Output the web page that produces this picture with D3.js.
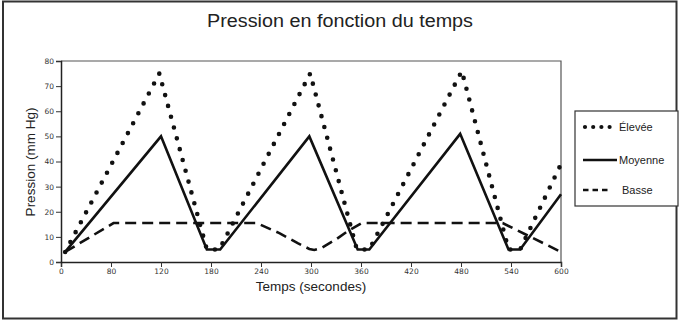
<!DOCTYPE html>
<html>
<head>
<meta charset="utf-8">
<script src="https://cdnjs.cloudflare.com/ajax/libs/d3/7.8.5/d3.min.js"></script>
<style>
  body { margin: 0; background: #fff; }
  text { font-family: "Liberation Sans", Arial, sans-serif; fill: #222; }
  .tick text { font-family: "DejaVu Sans", sans-serif; font-size: 7.5px; fill: #333; }
</style>
</head>
<body>
<svg id="chart" width="679" height="321"></svg>
<script>
// values (time in seconds, pressure in mm Hg)
const xTicks = [0, 60, 120, 180, 240, 300, 360, 420, 480, 540, 600] ;
const xTickLabels = ["0", "80", "120", "180", "240", "300", "360", "420", "480", "540", "600"] ;
const yTicks = [0, 10, 20, 30, 40, 50, 60, 70, 80] ;

const eleveeTime = [5, 118, 175, 190, 299, 355, 370, 481, 537, 551, 600] ;
const eleveeValue = [4, 75, 5, 5, 75, 5, 5, 76, 5, 5, 39] ;

const moyenneTime = [5, 120, 175, 191, 298, 356, 370, 479, 537, 551, 600] ;
const moyenneValue = [4, 50, 5, 5, 50, 5, 5, 51, 5, 5, 27] ;

const basseTime = [5, 63, 235, 262, 284, 298, 304, 312, 330, 345, 361, 530, 600] ;
const basseValue = [4, 15.5, 15.5, 11.5, 7.5, 5.2, 4.8, 5.5, 9, 12.5, 15.5, 15.5, 4] ;

const legendLabels = ["Élevée", "Moyenne", "Basse"] ;

const svg = d3.select("#chart") ;
const margin = { left: 61, top: 61, right: 561, bottom: 262 } ;

const x = d3.scaleLinear().domain([0, 600]).range([margin.left, margin.right]) ;
const y = d3.scaleLinear().domain([0, 80]).range([margin.bottom, margin.top]) ;

// outer frame
svg.append("rect")
	.attr("x", 3).attr("y", 1.5).attr("width", 673.5).attr("height", 317)
	.attr("fill", "none").attr("stroke", "#333").attr("stroke-width", 2) ;

const title = svg.append("text")
	.attr("x", 340).attr("y", 27)
	.attr("text-anchor", "middle")
	.style("font-size", "18px")
	.text("Pression en fonction du temps") ;
// stretch the title to the width it has in the reference
title.attr("textLength", 266).attr("lengthAdjust", "spacingAndGlyphs") ;

// plot frame (top + right)
svg.append("path")
	.attr("d", "M" + margin.left + "," + margin.top + "H" + margin.right + "V" + margin.bottom)
	.attr("fill", "none").attr("stroke", "#555").attr("stroke-width", 1.2) ;

const xAxis = svg.append("g")
	.attr("transform", "translate(0," + margin.bottom + ")")
	.call(d3.axisBottom(x).tickValues(xTicks).tickSize(5).tickPadding(2)
		.tickFormat(function(d, i) { return xTickLabels[i] ; })) ;

const yAxis = svg.append("g")
	.attr("transform", "translate(" + margin.left + ",0)")
	.call(d3.axisLeft(y).tickValues(yTicks).tickSize(5).tickPadding(2)) ;

[xAxis, yAxis].forEach(function(a) {
	a.select(".domain").attr("stroke", "#222").attr("stroke-width", 1.5) ;
	a.selectAll(".tick line").attr("stroke", "#333") ;
}) ;

svg.append("text")
	.attr("x", 311).attr("y", 291)
	.attr("text-anchor", "middle")
	.style("font-size", "13.5px")
	.text("Temps (secondes)") ;

svg.append("text")
	.attr("transform", "translate(35,162) rotate(-90)")
	.attr("text-anchor", "middle")
	.style("font-size", "13.5px")
	.text("Pression (mm Hg)") ;

const line = d3.line()
	.x(function(d) { return x(d[0]) ; })
	.y(function(d) { return y(d[1]) ; }) ;

function zip(t, v) { return t.map(function(d, i) { return [d, v[i]] ; }) ; }

const styles = [
	{ width: 4.6, dash: "0 11.2", cap: "round" },
	{ width: 2.6, dash: null, cap: "butt" },
	{ width: 2.6, dash: "11 6", cap: "butt" }
] ;

const series = [
	zip(eleveeTime, eleveeValue),
	zip(moyenneTime, moyenneValue),
	zip(basseTime, basseValue)
] ;

series.forEach(function(s, i) {
	svg.append("path")
		.attr("d", line(s))
		.attr("fill", "none")
		.attr("stroke", "#111")
		.attr("stroke-width", styles[i].width)
		.attr("stroke-dasharray", styles[i].dash)
		.attr("stroke-linecap", styles[i].cap)
		.attr("stroke-linejoin", "miter") ;
}) ;

// legend
svg.append("rect")
	.attr("x", 575).attr("y", 111).attr("width", 103).attr("height", 95)
	.attr("fill", "#fff").attr("stroke", "#333").attr("stroke-width", 1.2) ;

const legendY = [127, 160, 190] ;
const legendSample = [
	{ x2: 617, dash: "0 8.2", width: 4.2, cap: "round" },
	{ x2: 617, dash: null, width: 2.6, cap: "butt" },
	{ x2: 608, dash: "5.5 4", width: 2.4, cap: "butt" }
] ;
legendLabels.forEach(function(lbl, i) {
	svg.append("line")
		.attr("x1", i === 0 ? 585 : 583).attr("x2", legendSample[i].x2)
		.attr("y1", legendY[i]).attr("y2", legendY[i])
		.attr("stroke", "#111")
		.attr("stroke-width", legendSample[i].width)
		.attr("stroke-dasharray", legendSample[i].dash)
		.attr("stroke-linecap", legendSample[i].cap) ;
	svg.append("text")
		.attr("x", i === 2 ? 622 : 619).attr("y", legendY[i] + 4)
		.style("font-size", "11px")
		.text(lbl) ;
}) ;
</script>
</body>
</html>
